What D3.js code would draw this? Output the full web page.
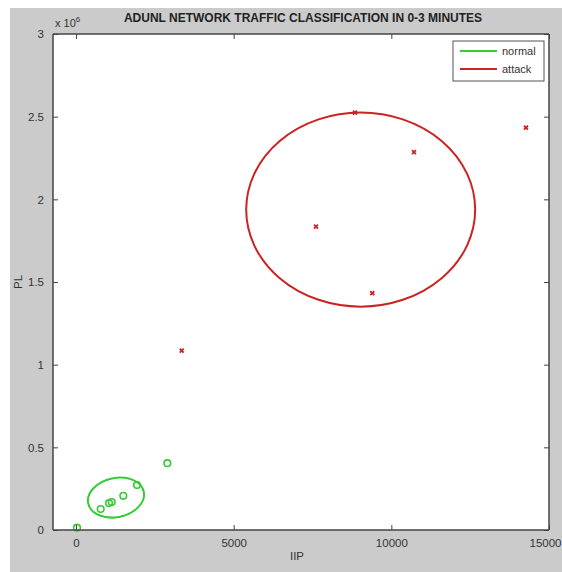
<!DOCTYPE html>
<html>
<head>
<meta charset="utf-8">
<script src="https://cdn.jsdelivr.net/npm/d3@7"></script>
<style>
  html, body { margin: 0; padding: 0; background: #ffffff; }
  svg { display: block; font-family: "Liberation Sans", Arial, sans-serif; }
</style>
</head>
<body>
<svg id="chart" width="562" height="572"></svg>
<script>
// Normal traffic samples (IIP, PL)
const normalIIP = [32, 783, 1046, 1132, 1500, 1934, 2895];
const normalPL  = [14000, 127000, 163000, 169000, 207000, 272000, 404000];

// Attack traffic samples (IIP, PL)
const attackIIP = [3352, 7610, 8847, 9396, 10718, 14270];
const attackPL  = [1085000, 1835000, 2524000, 1432000, 2285000, 2433000];

// Cluster outlines: centre, semi-axes (data units), tilt in degrees
const clusterNames = ["normal", "attack"];
const clusterCX = [1268, 9028];
const clusterCY = [196000, 1938000];
const clusterRX = [900, 3631];
const clusterRY = [118000, 587000];
const clusterTilt = [-12, 0];

const xTicks = [0, 5000, 10000, 15000];
const yTicks = [0, 500000, 1000000, 1500000, 2000000, 2500000, 3000000];
const legendLabels = ["normal", "attack"];

const GREEN = "#33cc33";
const RED = "#cc2222";
const AXIS = "#444444";

const svg = d3.select("#chart");
const W = 562, H = 572;
const m = { left: 53, right: 549, top: 34, bottom: 530 };

// figure background
svg.append("rect").attr("x", 10).attr("y", 8).attr("width", W - 10).attr("height", H - 8)
  .attr("fill", "#cbcbcb");

const x = d3.scaleLinear().domain([-730, 15000]).range([m.left, m.right]);
const y = d3.scaleLinear().domain([0, 3000000]).range([m.bottom, m.top]);

// plot area
svg.append("rect").attr("x", m.left).attr("y", m.top)
  .attr("width", m.right - m.left).attr("height", m.bottom - m.top)
  .attr("fill", "#ffffff");

const plot = svg.append("g");

// cluster ellipses
clusterNames.forEach((name, i) => {
  const cx = x(clusterCX[i]), cy = y(clusterCY[i]);
  plot.append("ellipse")
    .attr("cx", cx).attr("cy", cy)
    .attr("rx", x(clusterCX[i] + clusterRX[i]) - cx)
    .attr("ry", cy - y(clusterCY[i] + clusterRY[i]))
    .attr("transform", `rotate(${clusterTilt[i]},${cx},${cy})`)
    .attr("fill", "none")
    .attr("stroke", i === 0 ? GREEN : RED)
    .attr("stroke-width", 2);
});

// normal markers (circles)
plot.selectAll("circle.normal")
  .data(normalIIP.map((v, i) => [v, normalPL[i]]))
  .join("circle")
  .attr("class", "normal")
  .attr("cx", d => x(d[0])).attr("cy", d => y(d[1]))
  .attr("r", 3.3)
  .attr("fill", "none")
  .attr("stroke", GREEN)
  .attr("stroke-width", 1.6);

// attack markers (small crosses)
const cross = d3.symbol().type(d3.symbolX).size(12);
plot.selectAll("path.attack")
  .data(attackIIP.map((v, i) => [v, attackPL[i]]))
  .join("path")
  .attr("class", "attack")
  .attr("transform", d => `translate(${x(d[0])},${y(d[1])})`)
  .attr("d", cross)
  .attr("fill", "none")
  .attr("stroke", RED)
  .attr("stroke-width", 1.8);

// axes with inward ticks, box on
const tickLen = 5;
const xb = svg.append("g").attr("transform", `translate(0,${m.bottom})`)
  .call(d3.axisBottom(x).tickValues(xTicks).tickSize(-tickLen).tickPadding(9).tickFormat(d3.format("d")));
const xt = svg.append("g").attr("transform", `translate(0,${m.top})`)
  .call(d3.axisTop(x).tickValues(xTicks).tickSize(-tickLen).tickFormat(""));
const yl = svg.append("g").attr("transform", `translate(${m.left},0)`)
  .call(d3.axisLeft(y).tickValues(yTicks).tickSize(-tickLen).tickPadding(9)
    .tickFormat(d => d3.format("~g")(d / 1e6)));
const yr = svg.append("g").attr("transform", `translate(${m.right},0)`)
  .call(d3.axisRight(y).tickValues(yTicks).tickSize(-tickLen).tickFormat(""));

[xb, xt, yl, yr].forEach(g => {
  g.select(".domain").attr("stroke", AXIS).attr("stroke-width", 1.5);
  g.selectAll(".tick line").attr("stroke", AXIS).attr("stroke-width", 1);
  g.selectAll(".tick text").attr("fill", "#333333").style("font-size", "11.5px")
    .style("font-family", "'Liberation Sans', Arial, sans-serif");
});
xb.select(".domain").attr("d", `M${m.left},0H${m.right}`);
xt.select(".domain").attr("d", `M${m.left},0H${m.right}`);
yl.select(".domain").attr("d", `M0,${m.bottom}V${m.top}`);
yr.select(".domain").attr("d", `M0,${m.bottom}V${m.top}`);

// keep the last x tick label inside the figure edge
xb.selectAll(".tick text").filter(d => d === 15000)
  .attr("text-anchor", "end").attr("x", W - 1 - m.right);

// exponent label
const expo = svg.append("text").attr("x", 55).attr("y", 27)
  .attr("fill", "#333333").style("font-size", "11px");
expo.append("tspan").text("x 10");
expo.append("tspan").attr("dy", -5).style("font-size", "8px").text("6");

// title
svg.append("text").attr("x", (m.left + m.right) / 2 + 2).attr("y", 22)
  .attr("text-anchor", "middle").attr("fill", "#222222")
  .style("font-size", "12px").style("font-weight", "bold")
  .text("ADUNL NETWORK TRAFFIC CLASSIFICATION IN 0-3 MINUTES");

// axis titles
svg.append("text").attr("x", (m.left + m.right) / 2 - 4).attr("y", 560)
  .attr("text-anchor", "middle").attr("fill", "#333333").style("font-size", "11.5px")
  .text("IIP");
svg.append("text").attr("transform", `translate(22,${(m.top + m.bottom) / 2}) rotate(-90)`)
  .attr("text-anchor", "middle").attr("fill", "#333333").style("font-size", "11.5px")
  .text("PL");

// legend
const lg = svg.append("g");
lg.append("rect").attr("x", 453).attr("y", 41).attr("width", 91).attr("height", 40)
  .attr("fill", "#ffffff").attr("stroke", "#555555").attr("stroke-width", 1);
legendLabels.forEach((lab, i) => {
  const ly = 51 + i * 18;
  lg.append("line").attr("x1", 460).attr("x2", 497).attr("y1", ly).attr("y2", ly)
    .attr("stroke", i === 0 ? GREEN : RED).attr("stroke-width", 2);
  lg.append("text").attr("x", 502).attr("y", ly + 4).attr("fill", "#333333")
    .style("font-size", "11px").text(lab);
});
</script>
</body>
</html>
